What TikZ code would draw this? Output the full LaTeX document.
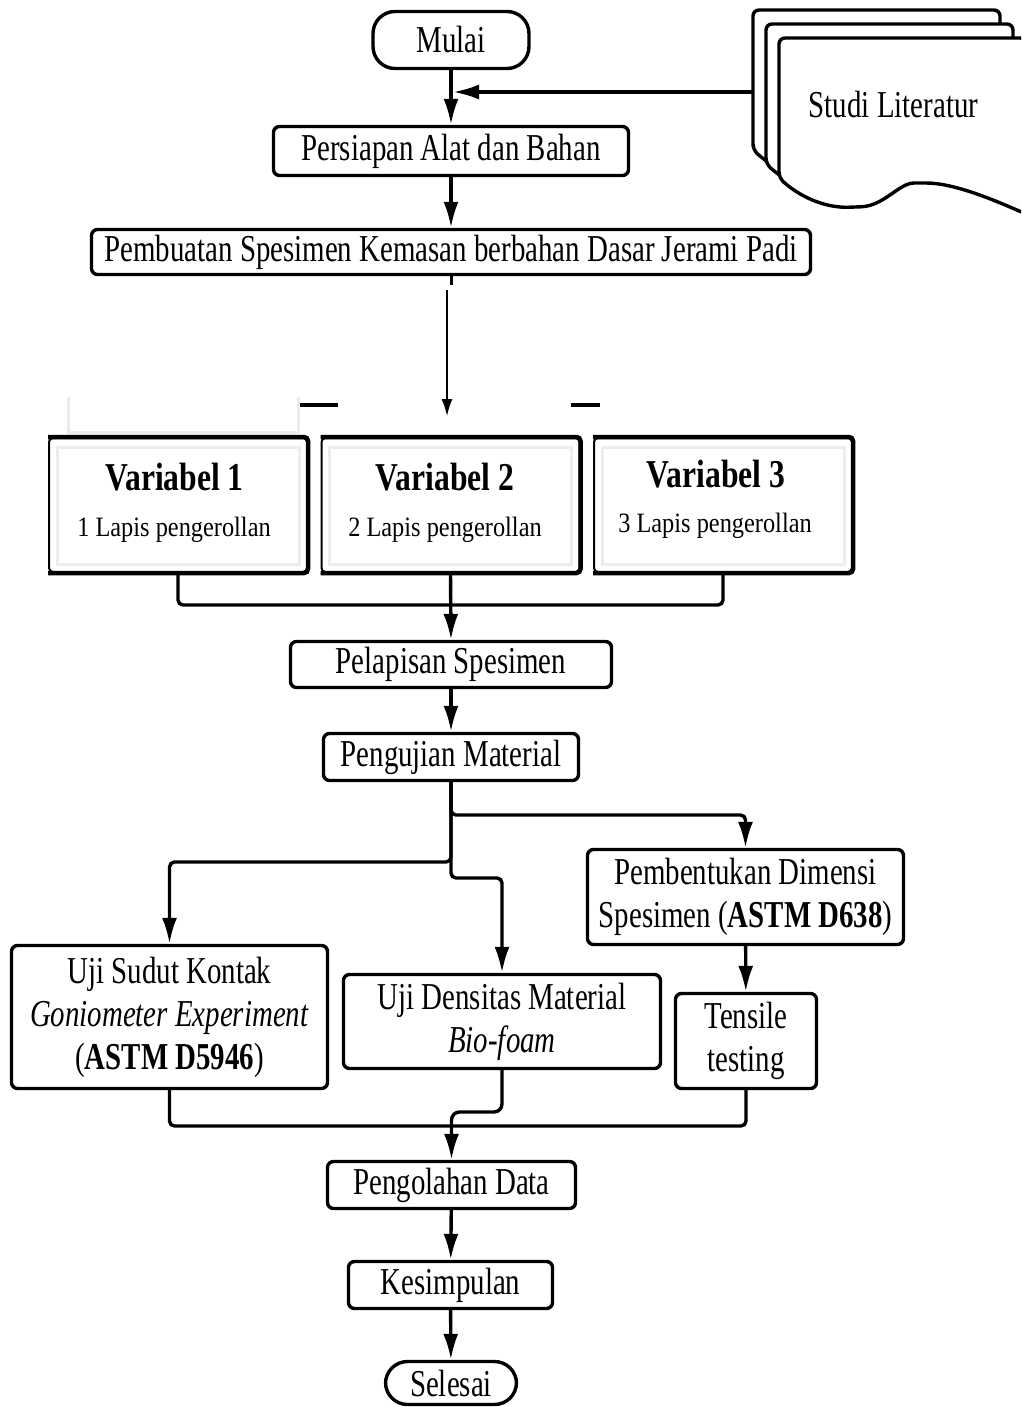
\documentclass[tikz,border=0pt]{standalone}
\usepackage{fontspec}
\setmainfont{Liberation Serif}[FakeStretch=0.76]
\newfontfamily\varfont{Liberation Serif}[FakeStretch=0.8]
\newfontfamily\smallfont{Liberation Serif}[FakeStretch=0.87]
\usetikzlibrary{arrows.meta}
\begin{document}
\begin{tikzpicture}[x=1pt,y=-1pt,
  box/.style={draw, line width=3.4pt, rounded corners=6pt, inner sep=0pt, align=center, fill=white,
    font=\fontsize{38}{43}\selectfont},
  pill/.style={box, rounded corners=22pt},
  arr/.style={line width=3.4pt, -{Latex[length=26pt,width=15pt]}},
  conn/.style={line width=3.4pt, rounded corners=5pt},
  docst/.style={draw, fill=white, line width=3.4pt, rounded corners=6pt},
  varbox/.style={draw, line width=2pt, rounded corners=4pt, minimum width=258pt, minimum height=134pt, inner sep=0pt},
  vartitle/.style={anchor=base, inner sep=0pt, font={\varfont\bfseries\fontsize{39.5}{44}\selectfont}},
  varsub/.style={anchor=base, inner sep=0pt, font={\smallfont\fontsize{28}{32}\selectfont}},
]
\useasboundingbox (0,0) rectangle (1021,1407);
\clip (0,0) rectangle (1021,1407);

% Studi literatur arrow
\coordinate (studiL) at (753,92);
\coordinate (jn) at (453,92);
\draw[arr] (studiL) -- (jn);

% multi-document
\foreach \dx/\dy in {753/10, 766/24, 779/38}{
  \begin{scope}[shift={(\dx,\dy)}]
    \path[docst] (0,140) -- (0,0) -- (247,0) -- (247,176)
      .. controls (215,162) and (175,145) .. (141,145)
      .. controls (120,145) and (105,168) .. (76,169)
      .. controls (50,170) and (25,162) .. (0,140) -- cycle;
  \end{scope}
}
\node[inner sep=0pt, font=\fontsize{38}{43}\selectfont] (studi) at (893.5,105) {Studi Literatur};

% main column
\node[pill, minimum width=156pt, minimum height=57pt] (mulai) at (451,40) {Mulai};
\node[box, minimum width=355pt, minimum height=49pt] (persiapan) at (451,151) {Persiapan Alat dan Bahan};
\node[box, minimum width=719pt, minimum height=45pt] (pembuatan) at (451,252) {Pembuatan Spesimen Kemasan berbahan Dasar Jerami Padi};

\draw[arr] (mulai) -- (persiapan);
\draw[arr] (persiapan) -- (pembuatan);

% odd leftovers
\draw[line width=3pt] (pembuatan.south) -- ++(0,9);
\coordinate (thinS) at (447,290);
\coordinate (thinE) at (447,416);
\draw[line width=1.5pt, -{Latex[length=17pt,width=11pt]}] (thinS) -- (thinE);
\coordinate (dashAa) at (300,405); \coordinate (dashAb) at (338,405);
\coordinate (dashBa) at (571,405); \coordinate (dashBb) at (600,405);
\draw[line width=4pt] (dashAa) -- (dashAb);
\draw[line width=4pt] (dashBa) -- (dashBb);
\draw[black!8, line width=3pt] (68,397) -- (68,432) -- (298,432) -- (298,397);

% variable boxes
\node[varbox] (var1) at (178,505) {};
\node[varbox] (var2) at (450.5,505) {};
\node[varbox] (var3) at (723,505) {};
\foreach \v in {var1,var2,var3}{
  \draw[line width=4.5pt, rounded corners=4pt] (\v.south west) -- (\v.south east) -- (\v.north east) -- (\v.north west);
  \draw[black!7, line width=3pt] ([shift={(9,10)}]\v.north west) rectangle ([shift={(-9,-9)}]\v.south east);
}
\node[vartitle] (v1t) at (174.5,490) {Variabel 1};
\node[varsub] (v1s) at (174,536) {1 Lapis pengerollan};
\node[vartitle] (v2t) at (445,490) {Variabel 2};
\node[varsub] (v2s) at (445,536) {2 Lapis pengerollan};
\node[vartitle] (v3t) at (716,487) {Variabel 3};
\node[varsub] (v3s) at (715,532) {3 Lapis pengerollan};

\node[box, minimum width=321pt, minimum height=46pt] (pelapisan) at (451,664.5) {Pelapisan Spesimen};
\node[box, minimum width=255pt, minimum height=47pt] (pengujian) at (451,757) {Pengujian Material};

\draw[conn] (var1.south) -- (178,605) -| (var3.south);
\draw[arr] (var2.south) -- (pelapisan.north);
\draw[arr] (pelapisan) -- (pengujian);

% tests
\node[box, minimum width=316pt, minimum height=95pt] (pembentukan) at (745.5,897)
  {Pembentukan Dimensi\\Spesimen (\textbf{ASTM D638})};
\node[box, minimum width=316pt, minimum height=143pt] (sudut) at (169.5,1017)
  {Uji Sudut Kontak\\\textit{Goniometer Experiment}\\(\textbf{ASTM D5946})};
\node[box, minimum width=317pt, minimum height=94pt] (densitas) at (502,1021.5)
  {Uji Densitas Material\\\textit{Bio-foam}};
\node[box, minimum width=141pt, minimum height=95pt] (tensile) at (746,1041)
  {Tensile\\testing};

\draw[arr, rounded corners=5pt] (pengujian.south) -- (451,815) -| (pembentukan.north);
\draw[arr, rounded corners=5pt] (pengujian.south) -- (451,862) -| (sudut.north);
\draw[arr, rounded corners=5pt] (pengujian.south) -- (451,878) -| (densitas.north);
\draw[arr] (pembentukan) -- (tensile);

% merge
\node[box, minimum width=248pt, minimum height=47pt] (pengolahan) at (451.5,1185) {Pengolahan Data};
\node[box, minimum width=204pt, minimum height=47pt] (kesimpulan) at (450.5,1285) {Kesimpulan};
\node[pill, minimum width=131pt, minimum height=43pt] (selesai) at (451,1383) {Selesai};

\draw[conn] (sudut.south) -- (169.5,1126) -| (tensile.south);
\draw[arr, rounded corners=8pt] (densitas.south) |- (451.5,1112) -- (pengolahan.north);
\draw[arr] (pengolahan) -- (kesimpulan);
\draw[arr] (kesimpulan) -- (selesai);
\end{tikzpicture}
\end{document}
